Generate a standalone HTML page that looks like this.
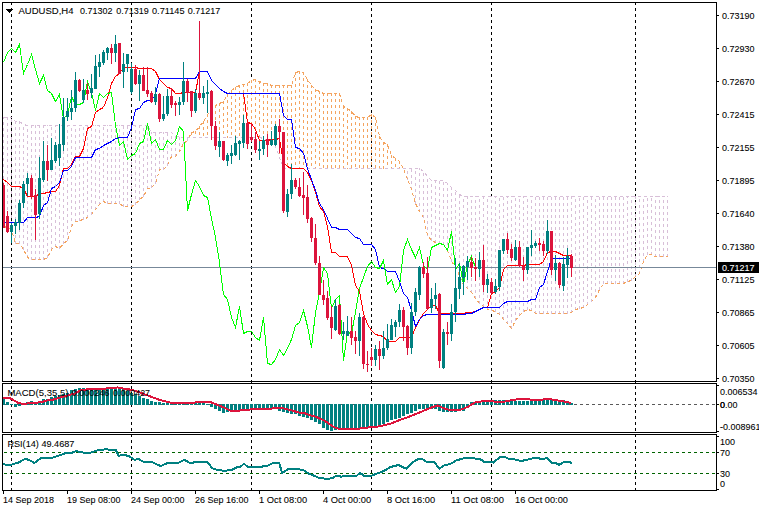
<!DOCTYPE html><html><head><meta charset="utf-8"><title>AUDUSD,H4</title><style>html,body{margin:0;padding:0;background:#fff}svg{display:block}text{font-family:"Liberation Sans",sans-serif;font-size:9px;fill:#000;stroke:#000;stroke-width:0.08px}</style></head><body>
<svg width="759" height="511" viewBox="0 0 759 511" shape-rendering="crispEdges">
<rect width="759" height="511" fill="#fff"/>
<line x1="11.5" y1="2" x2="11.5" y2="490" stroke="#000" stroke-width="1" stroke-dasharray="3,3"/>
<line x1="131.5" y1="2" x2="131.5" y2="490" stroke="#000" stroke-width="1" stroke-dasharray="3,3"/>
<line x1="251.5" y1="2" x2="251.5" y2="490" stroke="#000" stroke-width="1" stroke-dasharray="3,3"/>
<line x1="371.5" y1="2" x2="371.5" y2="490" stroke="#000" stroke-width="1" stroke-dasharray="3,3"/>
<line x1="491.5" y1="2" x2="491.5" y2="490" stroke="#000" stroke-width="1" stroke-dasharray="3,3"/>
<line x1="635.5" y1="2" x2="635.5" y2="490" stroke="#000" stroke-width="1" stroke-dasharray="3,3"/>
<line x1="3.5" y1="227" x2="3.5" y2="117" stroke="#d8bfd8" stroke-width="1" stroke-dasharray="3,3"/>
<line x1="7.5" y1="228" x2="7.5" y2="117" stroke="#d8bfd8" stroke-width="1" stroke-dasharray="3,3"/>
<line x1="11.5" y1="230" x2="11.5" y2="117" stroke="#d8bfd8" stroke-width="1" stroke-dasharray="3,3"/>
<line x1="15.5" y1="244" x2="15.5" y2="121" stroke="#d8bfd8" stroke-width="1" stroke-dasharray="3,3"/>
<line x1="19.5" y1="244" x2="19.5" y2="121" stroke="#d8bfd8" stroke-width="1" stroke-dasharray="3,3"/>
<line x1="23.5" y1="250" x2="23.5" y2="124" stroke="#d8bfd8" stroke-width="1" stroke-dasharray="3,3"/>
<line x1="27.5" y1="258" x2="27.5" y2="125" stroke="#d8bfd8" stroke-width="1" stroke-dasharray="3,3"/>
<line x1="31.5" y1="260" x2="31.5" y2="125" stroke="#d8bfd8" stroke-width="1" stroke-dasharray="3,3"/>
<line x1="35.5" y1="260" x2="35.5" y2="125" stroke="#d8bfd8" stroke-width="1" stroke-dasharray="3,3"/>
<line x1="39.5" y1="260" x2="39.5" y2="125" stroke="#d8bfd8" stroke-width="1" stroke-dasharray="3,3"/>
<line x1="43.5" y1="260" x2="43.5" y2="125" stroke="#d8bfd8" stroke-width="1" stroke-dasharray="3,3"/>
<line x1="47.5" y1="258" x2="47.5" y2="125" stroke="#d8bfd8" stroke-width="1" stroke-dasharray="3,3"/>
<line x1="51.5" y1="250" x2="51.5" y2="125" stroke="#d8bfd8" stroke-width="1" stroke-dasharray="3,3"/>
<line x1="55.5" y1="247" x2="55.5" y2="125" stroke="#d8bfd8" stroke-width="1" stroke-dasharray="3,3"/>
<line x1="59.5" y1="249" x2="59.5" y2="125" stroke="#d8bfd8" stroke-width="1" stroke-dasharray="3,3"/>
<line x1="63.5" y1="244" x2="63.5" y2="125" stroke="#d8bfd8" stroke-width="1" stroke-dasharray="3,3"/>
<line x1="67.5" y1="241" x2="67.5" y2="125" stroke="#d8bfd8" stroke-width="1" stroke-dasharray="3,3"/>
<line x1="71.5" y1="227" x2="71.5" y2="125" stroke="#d8bfd8" stroke-width="1" stroke-dasharray="3,3"/>
<line x1="75.5" y1="222" x2="75.5" y2="125" stroke="#d8bfd8" stroke-width="1" stroke-dasharray="3,3"/>
<line x1="79.5" y1="221" x2="79.5" y2="125" stroke="#d8bfd8" stroke-width="1" stroke-dasharray="3,3"/>
<line x1="83.5" y1="220" x2="83.5" y2="125" stroke="#d8bfd8" stroke-width="1" stroke-dasharray="3,3"/>
<line x1="87.5" y1="218" x2="87.5" y2="125" stroke="#d8bfd8" stroke-width="1" stroke-dasharray="3,3"/>
<line x1="91.5" y1="215" x2="91.5" y2="125" stroke="#d8bfd8" stroke-width="1" stroke-dasharray="3,3"/>
<line x1="95.5" y1="210" x2="95.5" y2="125" stroke="#d8bfd8" stroke-width="1" stroke-dasharray="3,3"/>
<line x1="99.5" y1="205" x2="99.5" y2="125" stroke="#d8bfd8" stroke-width="1" stroke-dasharray="3,3"/>
<line x1="103.5" y1="202" x2="103.5" y2="125" stroke="#d8bfd8" stroke-width="1" stroke-dasharray="3,3"/>
<line x1="107.5" y1="204" x2="107.5" y2="125" stroke="#d8bfd8" stroke-width="1" stroke-dasharray="3,3"/>
<line x1="111.5" y1="204" x2="111.5" y2="125" stroke="#d8bfd8" stroke-width="1" stroke-dasharray="3,3"/>
<line x1="115.5" y1="204" x2="115.5" y2="125" stroke="#d8bfd8" stroke-width="1" stroke-dasharray="3,3"/>
<line x1="119.5" y1="204" x2="119.5" y2="125" stroke="#d8bfd8" stroke-width="1" stroke-dasharray="3,3"/>
<line x1="123.5" y1="207" x2="123.5" y2="125" stroke="#d8bfd8" stroke-width="1" stroke-dasharray="3,3"/>
<line x1="127.5" y1="207" x2="127.5" y2="125" stroke="#d8bfd8" stroke-width="1" stroke-dasharray="3,3"/>
<line x1="131.5" y1="207" x2="131.5" y2="125" stroke="#d8bfd8" stroke-width="1" stroke-dasharray="3,3"/>
<line x1="135.5" y1="205" x2="135.5" y2="125" stroke="#d8bfd8" stroke-width="1" stroke-dasharray="3,3"/>
<line x1="139.5" y1="200" x2="139.5" y2="125" stroke="#d8bfd8" stroke-width="1" stroke-dasharray="3,3"/>
<line x1="143.5" y1="197" x2="143.5" y2="125" stroke="#d8bfd8" stroke-width="1" stroke-dasharray="3,3"/>
<line x1="147.5" y1="189" x2="147.5" y2="125" stroke="#d8bfd8" stroke-width="1" stroke-dasharray="3,3"/>
<line x1="151.5" y1="188" x2="151.5" y2="132" stroke="#d8bfd8" stroke-width="1" stroke-dasharray="3,3"/>
<line x1="155.5" y1="184" x2="155.5" y2="132" stroke="#d8bfd8" stroke-width="1" stroke-dasharray="3,3"/>
<line x1="159.5" y1="170" x2="159.5" y2="132" stroke="#d8bfd8" stroke-width="1" stroke-dasharray="3,3"/>
<line x1="163.5" y1="170" x2="163.5" y2="132" stroke="#d8bfd8" stroke-width="1" stroke-dasharray="3,3"/>
<line x1="167.5" y1="166" x2="167.5" y2="132" stroke="#d8bfd8" stroke-width="1" stroke-dasharray="3,3"/>
<line x1="171.5" y1="157" x2="171.5" y2="132" stroke="#d8bfd8" stroke-width="1" stroke-dasharray="3,3"/>
<line x1="175.5" y1="157" x2="175.5" y2="135" stroke="#d8bfd8" stroke-width="1" stroke-dasharray="3,3"/>
<line x1="179.5" y1="152" x2="179.5" y2="137" stroke="#d8bfd8" stroke-width="1" stroke-dasharray="3,3"/>
<line x1="183.5" y1="144" x2="183.5" y2="137" stroke="#d8bfd8" stroke-width="1" stroke-dasharray="3,3"/>
<line x1="187.5" y1="141" x2="187.5" y2="137" stroke="#d8bfd8" stroke-width="1" stroke-dasharray="3,3"/>
<line x1="191.5" y1="132" x2="191.5" y2="138" stroke="#f4a460" stroke-width="1" stroke-dasharray="3,3"/>
<line x1="195.5" y1="131" x2="195.5" y2="138" stroke="#f4a460" stroke-width="1" stroke-dasharray="3,3"/>
<line x1="199.5" y1="126" x2="199.5" y2="138" stroke="#f4a460" stroke-width="1" stroke-dasharray="3,3"/>
<line x1="203.5" y1="121" x2="203.5" y2="138" stroke="#f4a460" stroke-width="1" stroke-dasharray="3,3"/>
<line x1="207.5" y1="114" x2="207.5" y2="138" stroke="#f4a460" stroke-width="1" stroke-dasharray="3,3"/>
<line x1="211.5" y1="109" x2="211.5" y2="138" stroke="#f4a460" stroke-width="1" stroke-dasharray="3,3"/>
<line x1="215.5" y1="105" x2="215.5" y2="138" stroke="#f4a460" stroke-width="1" stroke-dasharray="3,3"/>
<line x1="219.5" y1="103" x2="219.5" y2="138" stroke="#f4a460" stroke-width="1" stroke-dasharray="3,3"/>
<line x1="223.5" y1="101" x2="223.5" y2="138" stroke="#f4a460" stroke-width="1" stroke-dasharray="3,3"/>
<line x1="227.5" y1="94" x2="227.5" y2="138" stroke="#f4a460" stroke-width="1" stroke-dasharray="3,3"/>
<line x1="231.5" y1="90" x2="231.5" y2="138" stroke="#f4a460" stroke-width="1" stroke-dasharray="3,3"/>
<line x1="235.5" y1="87" x2="235.5" y2="138" stroke="#f4a460" stroke-width="1" stroke-dasharray="3,3"/>
<line x1="239.5" y1="85" x2="239.5" y2="138" stroke="#f4a460" stroke-width="1" stroke-dasharray="3,3"/>
<line x1="243.5" y1="84" x2="243.5" y2="138" stroke="#f4a460" stroke-width="1" stroke-dasharray="3,3"/>
<line x1="247.5" y1="83" x2="247.5" y2="138" stroke="#f4a460" stroke-width="1" stroke-dasharray="3,3"/>
<line x1="251.5" y1="80" x2="251.5" y2="138" stroke="#f4a460" stroke-width="1" stroke-dasharray="3,3"/>
<line x1="255.5" y1="79" x2="255.5" y2="138" stroke="#f4a460" stroke-width="1" stroke-dasharray="3,3"/>
<line x1="259.5" y1="81" x2="259.5" y2="138" stroke="#f4a460" stroke-width="1" stroke-dasharray="3,3"/>
<line x1="263.5" y1="83" x2="263.5" y2="139" stroke="#f4a460" stroke-width="1" stroke-dasharray="3,3"/>
<line x1="267.5" y1="83" x2="267.5" y2="141" stroke="#f4a460" stroke-width="1" stroke-dasharray="3,3"/>
<line x1="271.5" y1="85" x2="271.5" y2="144" stroke="#f4a460" stroke-width="1" stroke-dasharray="3,3"/>
<line x1="275.5" y1="85" x2="275.5" y2="147" stroke="#f4a460" stroke-width="1" stroke-dasharray="3,3"/>
<line x1="279.5" y1="85" x2="279.5" y2="158" stroke="#f4a460" stroke-width="1" stroke-dasharray="3,3"/>
<line x1="283.5" y1="85" x2="283.5" y2="169" stroke="#f4a460" stroke-width="1" stroke-dasharray="3,3"/>
<line x1="287.5" y1="85" x2="287.5" y2="169" stroke="#f4a460" stroke-width="1" stroke-dasharray="3,3"/>
<line x1="291.5" y1="85" x2="291.5" y2="169" stroke="#f4a460" stroke-width="1" stroke-dasharray="3,3"/>
<line x1="295.5" y1="72" x2="295.5" y2="169" stroke="#f4a460" stroke-width="1" stroke-dasharray="3,3"/>
<line x1="299.5" y1="71" x2="299.5" y2="169" stroke="#f4a460" stroke-width="1" stroke-dasharray="3,3"/>
<line x1="303.5" y1="72" x2="303.5" y2="169" stroke="#f4a460" stroke-width="1" stroke-dasharray="3,3"/>
<line x1="307.5" y1="79" x2="307.5" y2="169" stroke="#f4a460" stroke-width="1" stroke-dasharray="3,3"/>
<line x1="311.5" y1="85" x2="311.5" y2="169" stroke="#f4a460" stroke-width="1" stroke-dasharray="3,3"/>
<line x1="315.5" y1="89" x2="315.5" y2="169" stroke="#f4a460" stroke-width="1" stroke-dasharray="3,3"/>
<line x1="319.5" y1="91" x2="319.5" y2="169" stroke="#f4a460" stroke-width="1" stroke-dasharray="3,3"/>
<line x1="323.5" y1="93" x2="323.5" y2="169" stroke="#f4a460" stroke-width="1" stroke-dasharray="3,3"/>
<line x1="327.5" y1="93" x2="327.5" y2="169" stroke="#f4a460" stroke-width="1" stroke-dasharray="3,3"/>
<line x1="331.5" y1="93" x2="331.5" y2="169" stroke="#f4a460" stroke-width="1" stroke-dasharray="3,3"/>
<line x1="335.5" y1="93" x2="335.5" y2="169" stroke="#f4a460" stroke-width="1" stroke-dasharray="3,3"/>
<line x1="339.5" y1="93" x2="339.5" y2="169" stroke="#f4a460" stroke-width="1" stroke-dasharray="3,3"/>
<line x1="343.5" y1="106" x2="343.5" y2="169" stroke="#f4a460" stroke-width="1" stroke-dasharray="3,3"/>
<line x1="347.5" y1="108" x2="347.5" y2="169" stroke="#f4a460" stroke-width="1" stroke-dasharray="3,3"/>
<line x1="351.5" y1="111" x2="351.5" y2="169" stroke="#f4a460" stroke-width="1" stroke-dasharray="3,3"/>
<line x1="355.5" y1="116" x2="355.5" y2="169" stroke="#f4a460" stroke-width="1" stroke-dasharray="3,3"/>
<line x1="359.5" y1="117" x2="359.5" y2="169" stroke="#f4a460" stroke-width="1" stroke-dasharray="3,3"/>
<line x1="363.5" y1="117" x2="363.5" y2="169" stroke="#f4a460" stroke-width="1" stroke-dasharray="3,3"/>
<line x1="367.5" y1="117" x2="367.5" y2="169" stroke="#f4a460" stroke-width="1" stroke-dasharray="3,3"/>
<line x1="371.5" y1="114" x2="371.5" y2="169" stroke="#f4a460" stroke-width="1" stroke-dasharray="3,3"/>
<line x1="375.5" y1="117" x2="375.5" y2="169" stroke="#f4a460" stroke-width="1" stroke-dasharray="3,3"/>
<line x1="379.5" y1="136" x2="379.5" y2="169" stroke="#f4a460" stroke-width="1" stroke-dasharray="3,3"/>
<line x1="383.5" y1="142" x2="383.5" y2="169" stroke="#f4a460" stroke-width="1" stroke-dasharray="3,3"/>
<line x1="387.5" y1="144" x2="387.5" y2="169" stroke="#f4a460" stroke-width="1" stroke-dasharray="3,3"/>
<line x1="391.5" y1="155" x2="391.5" y2="169" stroke="#f4a460" stroke-width="1" stroke-dasharray="3,3"/>
<line x1="395.5" y1="158" x2="395.5" y2="169" stroke="#f4a460" stroke-width="1" stroke-dasharray="3,3"/>
<line x1="399.5" y1="161" x2="399.5" y2="169" stroke="#f4a460" stroke-width="1" stroke-dasharray="3,3"/>
<line x1="407.5" y1="180" x2="407.5" y2="168" stroke="#d8bfd8" stroke-width="1" stroke-dasharray="3,3"/>
<line x1="411.5" y1="190" x2="411.5" y2="168" stroke="#d8bfd8" stroke-width="1" stroke-dasharray="3,3"/>
<line x1="415.5" y1="204" x2="415.5" y2="168" stroke="#d8bfd8" stroke-width="1" stroke-dasharray="3,3"/>
<line x1="419.5" y1="212" x2="419.5" y2="168" stroke="#d8bfd8" stroke-width="1" stroke-dasharray="3,3"/>
<line x1="423.5" y1="218" x2="423.5" y2="171" stroke="#d8bfd8" stroke-width="1" stroke-dasharray="3,3"/>
<line x1="427.5" y1="236" x2="427.5" y2="176" stroke="#d8bfd8" stroke-width="1" stroke-dasharray="3,3"/>
<line x1="431.5" y1="241" x2="431.5" y2="180" stroke="#d8bfd8" stroke-width="1" stroke-dasharray="3,3"/>
<line x1="435.5" y1="243" x2="435.5" y2="180" stroke="#d8bfd8" stroke-width="1" stroke-dasharray="3,3"/>
<line x1="439.5" y1="244" x2="439.5" y2="180" stroke="#d8bfd8" stroke-width="1" stroke-dasharray="3,3"/>
<line x1="443.5" y1="245" x2="443.5" y2="180" stroke="#d8bfd8" stroke-width="1" stroke-dasharray="3,3"/>
<line x1="447.5" y1="251" x2="447.5" y2="183" stroke="#d8bfd8" stroke-width="1" stroke-dasharray="3,3"/>
<line x1="451.5" y1="262" x2="451.5" y2="187" stroke="#d8bfd8" stroke-width="1" stroke-dasharray="3,3"/>
<line x1="455.5" y1="267" x2="455.5" y2="190" stroke="#d8bfd8" stroke-width="1" stroke-dasharray="3,3"/>
<line x1="459.5" y1="276" x2="459.5" y2="194" stroke="#d8bfd8" stroke-width="1" stroke-dasharray="3,3"/>
<line x1="463.5" y1="286" x2="463.5" y2="196" stroke="#d8bfd8" stroke-width="1" stroke-dasharray="3,3"/>
<line x1="467.5" y1="289" x2="467.5" y2="196" stroke="#d8bfd8" stroke-width="1" stroke-dasharray="3,3"/>
<line x1="471.5" y1="293" x2="471.5" y2="196" stroke="#d8bfd8" stroke-width="1" stroke-dasharray="3,3"/>
<line x1="475.5" y1="299" x2="475.5" y2="196" stroke="#d8bfd8" stroke-width="1" stroke-dasharray="3,3"/>
<line x1="479.5" y1="304" x2="479.5" y2="196" stroke="#d8bfd8" stroke-width="1" stroke-dasharray="3,3"/>
<line x1="483.5" y1="307" x2="483.5" y2="196" stroke="#d8bfd8" stroke-width="1" stroke-dasharray="3,3"/>
<line x1="487.5" y1="310" x2="487.5" y2="196" stroke="#d8bfd8" stroke-width="1" stroke-dasharray="3,3"/>
<line x1="491.5" y1="311" x2="491.5" y2="196" stroke="#d8bfd8" stroke-width="1" stroke-dasharray="3,3"/>
<line x1="495.5" y1="312" x2="495.5" y2="196" stroke="#d8bfd8" stroke-width="1" stroke-dasharray="3,3"/>
<line x1="499.5" y1="315" x2="499.5" y2="196" stroke="#d8bfd8" stroke-width="1" stroke-dasharray="3,3"/>
<line x1="503.5" y1="320" x2="503.5" y2="196" stroke="#d8bfd8" stroke-width="1" stroke-dasharray="3,3"/>
<line x1="507.5" y1="324" x2="507.5" y2="196" stroke="#d8bfd8" stroke-width="1" stroke-dasharray="3,3"/>
<line x1="511.5" y1="329" x2="511.5" y2="196" stroke="#d8bfd8" stroke-width="1" stroke-dasharray="3,3"/>
<line x1="515.5" y1="321" x2="515.5" y2="196" stroke="#d8bfd8" stroke-width="1" stroke-dasharray="3,3"/>
<line x1="519.5" y1="316" x2="519.5" y2="196" stroke="#d8bfd8" stroke-width="1" stroke-dasharray="3,3"/>
<line x1="523.5" y1="312" x2="523.5" y2="196" stroke="#d8bfd8" stroke-width="1" stroke-dasharray="3,3"/>
<line x1="527.5" y1="310" x2="527.5" y2="196" stroke="#d8bfd8" stroke-width="1" stroke-dasharray="3,3"/>
<line x1="531.5" y1="311" x2="531.5" y2="196" stroke="#d8bfd8" stroke-width="1" stroke-dasharray="3,3"/>
<line x1="535.5" y1="314" x2="535.5" y2="196" stroke="#d8bfd8" stroke-width="1" stroke-dasharray="3,3"/>
<line x1="539.5" y1="314" x2="539.5" y2="196" stroke="#d8bfd8" stroke-width="1" stroke-dasharray="3,3"/>
<line x1="543.5" y1="314" x2="543.5" y2="196" stroke="#d8bfd8" stroke-width="1" stroke-dasharray="3,3"/>
<line x1="547.5" y1="314" x2="547.5" y2="196" stroke="#d8bfd8" stroke-width="1" stroke-dasharray="3,3"/>
<line x1="551.5" y1="314" x2="551.5" y2="196" stroke="#d8bfd8" stroke-width="1" stroke-dasharray="3,3"/>
<line x1="555.5" y1="314" x2="555.5" y2="196" stroke="#d8bfd8" stroke-width="1" stroke-dasharray="3,3"/>
<line x1="559.5" y1="314" x2="559.5" y2="196" stroke="#d8bfd8" stroke-width="1" stroke-dasharray="3,3"/>
<line x1="563.5" y1="314" x2="563.5" y2="196" stroke="#d8bfd8" stroke-width="1" stroke-dasharray="3,3"/>
<line x1="567.5" y1="314" x2="567.5" y2="196" stroke="#d8bfd8" stroke-width="1" stroke-dasharray="3,3"/>
<line x1="571.5" y1="313" x2="571.5" y2="196" stroke="#d8bfd8" stroke-width="1" stroke-dasharray="3,3"/>
<line x1="575.5" y1="310" x2="575.5" y2="196" stroke="#d8bfd8" stroke-width="1" stroke-dasharray="3,3"/>
<line x1="579.5" y1="309" x2="579.5" y2="196" stroke="#d8bfd8" stroke-width="1" stroke-dasharray="3,3"/>
<line x1="583.5" y1="308" x2="583.5" y2="196" stroke="#d8bfd8" stroke-width="1" stroke-dasharray="3,3"/>
<line x1="587.5" y1="305" x2="587.5" y2="196" stroke="#d8bfd8" stroke-width="1" stroke-dasharray="3,3"/>
<line x1="591.5" y1="302" x2="591.5" y2="196" stroke="#d8bfd8" stroke-width="1" stroke-dasharray="3,3"/>
<line x1="595.5" y1="298" x2="595.5" y2="196" stroke="#d8bfd8" stroke-width="1" stroke-dasharray="3,3"/>
<line x1="599.5" y1="290" x2="599.5" y2="196" stroke="#d8bfd8" stroke-width="1" stroke-dasharray="3,3"/>
<line x1="603.5" y1="284" x2="603.5" y2="196" stroke="#d8bfd8" stroke-width="1" stroke-dasharray="3,3"/>
<line x1="607.5" y1="284" x2="607.5" y2="196" stroke="#d8bfd8" stroke-width="1" stroke-dasharray="3,3"/>
<line x1="611.5" y1="284" x2="611.5" y2="196" stroke="#d8bfd8" stroke-width="1" stroke-dasharray="3,3"/>
<line x1="615.5" y1="284" x2="615.5" y2="196" stroke="#d8bfd8" stroke-width="1" stroke-dasharray="3,3"/>
<line x1="619.5" y1="284" x2="619.5" y2="196" stroke="#d8bfd8" stroke-width="1" stroke-dasharray="3,3"/>
<line x1="623.5" y1="284" x2="623.5" y2="196" stroke="#d8bfd8" stroke-width="1" stroke-dasharray="3,3"/>
<line x1="627.5" y1="282" x2="627.5" y2="196" stroke="#d8bfd8" stroke-width="1" stroke-dasharray="3,3"/>
<line x1="631.5" y1="281" x2="631.5" y2="196" stroke="#d8bfd8" stroke-width="1" stroke-dasharray="3,3"/>
<line x1="635.5" y1="277" x2="635.5" y2="196" stroke="#d8bfd8" stroke-width="1" stroke-dasharray="3,3"/>
<line x1="639.5" y1="274" x2="639.5" y2="196" stroke="#d8bfd8" stroke-width="1" stroke-dasharray="3,3"/>
<line x1="643.5" y1="262" x2="643.5" y2="196" stroke="#d8bfd8" stroke-width="1" stroke-dasharray="3,3"/>
<line x1="647.5" y1="255" x2="647.5" y2="196" stroke="#d8bfd8" stroke-width="1" stroke-dasharray="3,3"/>
<line x1="651.5" y1="255" x2="651.5" y2="196" stroke="#d8bfd8" stroke-width="1" stroke-dasharray="3,3"/>
<line x1="655.5" y1="257" x2="655.5" y2="196" stroke="#d8bfd8" stroke-width="1" stroke-dasharray="3,3"/>
<line x1="659.5" y1="257" x2="659.5" y2="196" stroke="#d8bfd8" stroke-width="1" stroke-dasharray="3,3"/>
<line x1="663.5" y1="257" x2="663.5" y2="196" stroke="#d8bfd8" stroke-width="1" stroke-dasharray="3,3"/>
<line x1="667.5" y1="257" x2="667.5" y2="196" stroke="#d8bfd8" stroke-width="1" stroke-dasharray="3,3"/>
<polyline points="3.5,226.5 7.5,227.5 11.5,229.5 15.5,243.5 19.5,243.5 23.5,249.5 27.5,257.5 31.5,259.5 35.5,259.5 39.5,259.5 43.5,259.5 47.5,257.5 51.5,249.5 55.5,246.5 59.5,248.5 63.5,243.5 67.5,240.5 71.5,226.5 75.5,221.5 79.5,220.5 83.5,219.5 87.5,217.5 91.5,214.5 95.5,209.5 99.5,204.5 103.5,201.5 107.5,203.5 111.5,203.5 115.5,203.5 119.5,203.5 123.5,206.5 127.5,206.5 131.5,206.5 135.5,204.5 139.5,199.5 143.5,196.5 147.5,188.5 151.5,187.5 155.5,183.5 159.5,169.5 163.5,169.5 167.5,165.5 171.5,156.5 175.5,156.5 179.5,151.5 183.5,143.5 187.5,140.5 191.5,132.5 195.5,131.5 199.5,126.5 203.5,121.5 207.5,114.5 211.5,109.5 215.5,105.5 219.5,103.5 223.5,101.5 227.5,94.5 231.5,90.5 235.5,87.5 239.5,85.5 243.5,84.5 247.5,83.5 251.5,80.5 255.5,79.5 259.5,81.5 263.5,83.5 267.5,83.5 271.5,85.5 275.5,85.5 279.5,85.5 283.5,85.5 287.5,85.5 291.5,85.5 295.5,72.5 299.5,71.5 303.5,72.5 307.5,79.5 311.5,85.5 315.5,89.5 319.5,91.5 323.5,93.5 327.5,93.5 331.5,93.5 335.5,93.5 339.5,93.5 343.5,106.5 347.5,108.5 351.5,111.5 355.5,116.5 359.5,117.5 363.5,117.5 367.5,117.5 371.5,114.5 375.5,117.5 379.5,136.5 383.5,142.5 387.5,144.5 391.5,155.5 395.5,158.5 399.5,161.5 403.5,168.5 407.5,179.5 411.5,189.5 415.5,203.5 419.5,211.5 423.5,217.5 427.5,235.5 431.5,240.5 435.5,242.5 439.5,243.5 443.5,244.5 447.5,250.5 451.5,261.5 455.5,266.5 459.5,275.5 463.5,285.5 467.5,288.5 471.5,292.5 475.5,298.5 479.5,303.5 483.5,306.5 487.5,309.5 491.5,310.5 495.5,311.5 499.5,314.5 503.5,319.5 507.5,323.5 511.5,328.5 515.5,320.5 519.5,315.5 523.5,311.5 527.5,309.5 531.5,310.5 535.5,313.5 539.5,313.5 543.5,313.5 547.5,313.5 551.5,313.5 555.5,313.5 559.5,313.5 563.5,313.5 567.5,313.5 571.5,312.5 575.5,309.5 579.5,308.5 583.5,307.5 587.5,304.5 591.5,301.5 595.5,297.5 599.5,289.5 603.5,283.5 607.5,283.5 611.5,283.5 615.5,283.5 619.5,283.5 623.5,283.5 627.5,281.5 631.5,280.5 635.5,276.5 639.5,273.5 643.5,261.5 647.5,254.5 651.5,254.5 655.5,256.5 659.5,256.5 663.5,256.5 667.5,256.5" fill="none" stroke="#f4a460" stroke-width="1" stroke-dasharray="3,3"/>
<polyline points="3.5,117.5 7.5,117.5 11.5,117.5 15.5,121.5 19.5,121.5 23.5,124.5 27.5,125.5 31.5,125.5 35.5,125.5 39.5,125.5 43.5,125.5 47.5,125.5 51.5,125.5 55.5,125.5 59.5,125.5 63.5,125.5 67.5,125.5 71.5,125.5 75.5,125.5 79.5,125.5 83.5,125.5 87.5,125.5 91.5,125.5 95.5,125.5 99.5,125.5 103.5,125.5 107.5,125.5 111.5,125.5 115.5,125.5 119.5,125.5 123.5,125.5 127.5,125.5 131.5,125.5 135.5,125.5 139.5,125.5 143.5,125.5 147.5,125.5 151.5,132.5 155.5,132.5 159.5,132.5 163.5,132.5 167.5,132.5 171.5,132.5 175.5,135.5 179.5,137.5 183.5,137.5 187.5,137.5 191.5,137.5 195.5,137.5 199.5,137.5 203.5,137.5 207.5,137.5 211.5,137.5 215.5,137.5 219.5,137.5 223.5,137.5 227.5,137.5 231.5,137.5 235.5,137.5 239.5,137.5 243.5,137.5 247.5,137.5 251.5,137.5 255.5,137.5 259.5,137.5 263.5,138.5 267.5,140.5 271.5,143.5 275.5,146.5 279.5,157.5 283.5,168.5 287.5,168.5 291.5,168.5 295.5,168.5 299.5,168.5 303.5,168.5 307.5,168.5 311.5,168.5 315.5,168.5 319.5,168.5 323.5,168.5 327.5,168.5 331.5,168.5 335.5,168.5 339.5,168.5 343.5,168.5 347.5,168.5 351.5,168.5 355.5,168.5 359.5,168.5 363.5,168.5 367.5,168.5 371.5,168.5 375.5,168.5 379.5,168.5 383.5,168.5 387.5,168.5 391.5,168.5 395.5,168.5 399.5,168.5 403.5,168.5 407.5,168.5 411.5,168.5 415.5,168.5 419.5,168.5 423.5,171.5 427.5,176.5 431.5,180.5 435.5,180.5 439.5,180.5 443.5,180.5 447.5,183.5 451.5,187.5 455.5,190.5 459.5,194.5 463.5,196.5 467.5,196.5 471.5,196.5 475.5,196.5 479.5,196.5 483.5,196.5 487.5,196.5 491.5,196.5 495.5,196.5 499.5,196.5 503.5,196.5 507.5,196.5 511.5,196.5 515.5,196.5 519.5,196.5 523.5,196.5 527.5,196.5 531.5,196.5 535.5,196.5 539.5,196.5 543.5,196.5 547.5,196.5 551.5,196.5 555.5,196.5 559.5,196.5 563.5,196.5 567.5,196.5 571.5,196.5 575.5,196.5 579.5,196.5 583.5,196.5 587.5,196.5 591.5,196.5 595.5,196.5 599.5,196.5 603.5,196.5 607.5,196.5 611.5,196.5 615.5,196.5 619.5,196.5 623.5,196.5 627.5,196.5 631.5,196.5 635.5,196.5 639.5,196.5 643.5,196.5 647.5,196.5 651.5,196.5 655.5,196.5 659.5,196.5 663.5,196.5 667.5,196.5" fill="none" stroke="#d8bfd8" stroke-width="1" stroke-dasharray="3,3"/>
<rect x="3" y="267" width="713" height="1" fill="#778899"/>
<polyline points="3.5,179.5 7.5,182.5 11.5,186.5 15.5,186.5 19.5,186.5 23.5,188.5 27.5,196.5 31.5,196.5 35.5,196.5 39.5,193.5 43.5,193.5 47.5,192.5 51.5,191.5 55.5,191.5 59.5,185.5 63.5,168.5 67.5,168.5 71.5,164.5 75.5,156.5 79.5,156.5 83.5,148.5 87.5,128.5 91.5,126.5 95.5,112.5 99.5,109.5 103.5,107.5 107.5,97.5 111.5,83.5 115.5,76.5 119.5,73.5 123.5,67.5 127.5,67.5 131.5,67.5 135.5,67.5 139.5,68.5 143.5,68.5 147.5,68.5 151.5,68.5 155.5,71.5 159.5,79.5 163.5,83.5 167.5,87.5 171.5,88.5 175.5,93.5 179.5,93.5 183.5,92.5 187.5,92.5 191.5,92.5 195.5,92.5 199.5,71.5 203.5,71.5 207.5,71.5 211.5,80.5 215.5,84.5 219.5,88.5 223.5,91.5 227.5,93.5 231.5,93.5 235.5,93.5 239.5,93.5 243.5,93.5 247.5,122.5 251.5,123.5 255.5,129.5 259.5,140.5 263.5,140.5 267.5,140.5 271.5,139.5 275.5,139.5 279.5,138.5 283.5,162.5 287.5,166.5 291.5,168.5 295.5,168.5 299.5,168.5 303.5,168.5 307.5,172.5 311.5,180.5 315.5,192.5 319.5,206.5 323.5,211.5 327.5,226.5 331.5,252.5 335.5,252.5 339.5,256.5 343.5,256.5 347.5,256.5 351.5,265.5 355.5,285.5 359.5,291.5 363.5,313.5 367.5,324.5 371.5,330.5 375.5,334.5 379.5,335.5 383.5,336.5 387.5,341.5 391.5,341.5 395.5,341.5 399.5,337.5 403.5,337.5 407.5,337.5 411.5,337.5 415.5,327.5 419.5,319.5 423.5,313.5 427.5,309.5 431.5,305.5 435.5,305.5 439.5,313.5 443.5,313.5 447.5,313.5 451.5,313.5 455.5,313.5 459.5,313.5 463.5,313.5 467.5,312.5 471.5,312.5 475.5,311.5 479.5,309.5 483.5,307.5 487.5,307.5 491.5,293.5 495.5,291.5 499.5,287.5 503.5,269.5 507.5,265.5 511.5,265.5 515.5,265.5 519.5,265.5 523.5,265.5 527.5,264.5 531.5,264.5 535.5,264.5 539.5,264.5 543.5,261.5 547.5,252.5 551.5,251.5 555.5,251.5 559.5,253.5 563.5,255.5 567.5,255.5 571.5,255.5" fill="none" stroke="#ff0000" stroke-width="1"/>
<polyline points="3.5,222.5 7.5,222.5 11.5,222.5 15.5,222.5 19.5,222.5 23.5,222.5 27.5,217.5 31.5,217.5 35.5,217.5 39.5,216.5 43.5,205.5 47.5,202.5 51.5,188.5 55.5,186.5 59.5,182.5 63.5,170.5 67.5,170.5 71.5,166.5 75.5,157.5 79.5,157.5 83.5,157.5 87.5,157.5 91.5,157.5 95.5,149.5 99.5,148.5 103.5,145.5 107.5,143.5 111.5,141.5 115.5,138.5 119.5,137.5 123.5,137.5 127.5,137.5 131.5,127.5 135.5,109.5 139.5,108.5 143.5,102.5 147.5,100.5 151.5,100.5 155.5,94.5 159.5,78.5 163.5,78.5 167.5,78.5 171.5,78.5 175.5,78.5 179.5,78.5 183.5,78.5 187.5,78.5 191.5,78.5 195.5,78.5 199.5,71.5 203.5,71.5 207.5,71.5 211.5,80.5 215.5,84.5 219.5,88.5 223.5,91.5 227.5,93.5 231.5,93.5 235.5,93.5 239.5,93.5 243.5,93.5 247.5,93.5 251.5,93.5 255.5,93.5 259.5,93.5 263.5,93.5 267.5,93.5 271.5,93.5 275.5,93.5 279.5,93.5 283.5,115.5 287.5,119.5 291.5,119.5 295.5,147.5 299.5,148.5 303.5,153.5 307.5,168.5 311.5,179.5 315.5,190.5 319.5,203.5 323.5,209.5 327.5,218.5 331.5,227.5 335.5,227.5 339.5,229.5 343.5,229.5 347.5,229.5 351.5,233.5 355.5,237.5 359.5,238.5 363.5,244.5 367.5,244.5 371.5,244.5 375.5,249.5 379.5,267.5 383.5,268.5 387.5,271.5 391.5,271.5 395.5,271.5 399.5,281.5 403.5,293.5 407.5,297.5 411.5,310.5 415.5,326.5 419.5,319.5 423.5,315.5 427.5,314.5 431.5,314.5 435.5,314.5 439.5,314.5 443.5,314.5 447.5,314.5 451.5,314.5 455.5,314.5 459.5,314.5 463.5,314.5 467.5,313.5 471.5,313.5 475.5,311.5 479.5,309.5 483.5,307.5 487.5,307.5 491.5,307.5 495.5,307.5 499.5,307.5 503.5,303.5 507.5,301.5 511.5,301.5 515.5,301.5 519.5,301.5 523.5,301.5 527.5,301.5 531.5,299.5 535.5,299.5 539.5,287.5 543.5,284.5 547.5,271.5 551.5,258.5 555.5,258.5 559.5,258.5 563.5,258.5 567.5,258.5 571.5,258.5" fill="none" stroke="#0000ff" stroke-width="1"/>
<polyline points="3.5,62.5 7.5,52.5 11.5,48.5 15.5,52.5 19.5,44.5 23.5,73.5 27.5,64.5 31.5,54.5 35.5,69.5 39.5,83.5 43.5,75.5 47.5,90.5 51.5,93.5 55.5,101.5 59.5,94.5 63.5,118.5 67.5,114.5 71.5,96.5 75.5,104.5 79.5,104.5 83.5,102.5 87.5,81.5 91.5,92.5 95.5,110.5 99.5,93.5 103.5,97.5 107.5,93.5 111.5,92.5 115.5,125.5 119.5,145.5 123.5,141.5 127.5,159.5 131.5,155.5 135.5,153.5 139.5,143.5 143.5,141.5 147.5,123.5 151.5,143.5 155.5,139.5 159.5,149.5 163.5,149.5 167.5,140.5 171.5,144.5 175.5,140.5 179.5,126.5 183.5,131.5 187.5,210.5 191.5,194.5 195.5,180.5 199.5,186.5 203.5,195.5 207.5,197.5 211.5,218.5 215.5,237.5 219.5,262.5 223.5,294.5 227.5,299.5 231.5,317.5 235.5,327.5 239.5,306.5 243.5,333.5 247.5,331.5 251.5,331.5 255.5,337.5 259.5,340.5 263.5,317.5 267.5,363.5 271.5,364.5 275.5,359.5 279.5,349.5 283.5,355.5 287.5,348.5 291.5,339.5 295.5,325.5 299.5,322.5 303.5,310.5 307.5,326.5 311.5,347.5 315.5,312.5 319.5,292.5 323.5,267.5 327.5,273.5 331.5,308.5 335.5,299.5 339.5,295.5 343.5,360.5 347.5,332.5 351.5,333.5 355.5,312.5 359.5,288.5 363.5,277.5 367.5,266.5 371.5,261.5 375.5,267.5 379.5,268.5 383.5,260.5 387.5,284.5 391.5,279.5 395.5,292.5 399.5,286.5 403.5,250.5 407.5,239.5 411.5,249.5 415.5,257.5 419.5,247.5 423.5,265.5 427.5,269.5 431.5,247.5 435.5,245.5 439.5,243.5 443.5,244.5 447.5,250.5 451.5,231.5 455.5,269.5 459.5,263.5 463.5,284.5 467.5,264.5 471.5,256.5 475.5,267.5" fill="none" stroke="#00ff00" stroke-width="1"/>
<rect x="3" y="183" width="1" height="45" fill="#dc143c"/>
<rect x="2" y="185" width="3" height="43" fill="#dc143c"/>
<rect x="7" y="211" width="1" height="22" fill="#dc143c"/>
<rect x="6" y="216" width="3" height="16" fill="#dc143c"/>
<rect x="11" y="223" width="1" height="20" fill="#008080"/>
<rect x="10" y="225" width="3" height="7" fill="#008080"/>
<rect x="15" y="219" width="1" height="15" fill="#008080"/>
<rect x="14" y="222" width="3" height="4" fill="#008080"/>
<rect x="19" y="200" width="1" height="30" fill="#008080"/>
<rect x="18" y="203" width="3" height="20" fill="#008080"/>
<rect x="23" y="181" width="1" height="27" fill="#008080"/>
<rect x="22" y="184" width="3" height="19" fill="#008080"/>
<rect x="27" y="173" width="1" height="23" fill="#008080"/>
<rect x="26" y="178" width="3" height="6" fill="#008080"/>
<rect x="31" y="175" width="1" height="24" fill="#dc143c"/>
<rect x="30" y="178" width="3" height="18" fill="#dc143c"/>
<rect x="35" y="189" width="1" height="51" fill="#dc143c"/>
<rect x="34" y="195" width="3" height="20" fill="#dc143c"/>
<rect x="39" y="157" width="1" height="62" fill="#008080"/>
<rect x="38" y="178" width="3" height="36" fill="#008080"/>
<rect x="43" y="141" width="1" height="41" fill="#008080"/>
<rect x="42" y="161" width="3" height="19" fill="#008080"/>
<rect x="47" y="145" width="1" height="36" fill="#dc143c"/>
<rect x="46" y="161" width="3" height="9" fill="#dc143c"/>
<rect x="51" y="138" width="1" height="32" fill="#008080"/>
<rect x="50" y="160" width="3" height="10" fill="#008080"/>
<rect x="55" y="142" width="1" height="21" fill="#008080"/>
<rect x="54" y="145" width="3" height="16" fill="#008080"/>
<rect x="59" y="124" width="1" height="42" fill="#008080"/>
<rect x="58" y="144" width="3" height="14" fill="#008080"/>
<rect x="63" y="98" width="1" height="53" fill="#008080"/>
<rect x="62" y="117" width="3" height="28" fill="#008080"/>
<rect x="67" y="98" width="1" height="23" fill="#008080"/>
<rect x="66" y="111" width="3" height="6" fill="#008080"/>
<rect x="71" y="90" width="1" height="30" fill="#008080"/>
<rect x="70" y="108" width="3" height="4" fill="#008080"/>
<rect x="75" y="72" width="1" height="40" fill="#008080"/>
<rect x="74" y="80" width="3" height="28" fill="#008080"/>
<rect x="79" y="79" width="1" height="13" fill="#dc143c"/>
<rect x="78" y="80" width="3" height="11" fill="#dc143c"/>
<rect x="83" y="79" width="1" height="24" fill="#008080"/>
<rect x="82" y="90" width="3" height="10" fill="#008080"/>
<rect x="87" y="83" width="1" height="17" fill="#dc143c"/>
<rect x="86" y="90" width="3" height="4" fill="#dc143c"/>
<rect x="91" y="74" width="1" height="24" fill="#008080"/>
<rect x="90" y="88" width="3" height="5" fill="#008080"/>
<rect x="95" y="55" width="1" height="34" fill="#008080"/>
<rect x="94" y="66" width="3" height="23" fill="#008080"/>
<rect x="99" y="54" width="1" height="23" fill="#008080"/>
<rect x="98" y="62" width="3" height="5" fill="#008080"/>
<rect x="103" y="50" width="1" height="15" fill="#008080"/>
<rect x="102" y="52" width="3" height="11" fill="#008080"/>
<rect x="107" y="47" width="1" height="13" fill="#008080"/>
<rect x="106" y="48" width="3" height="5" fill="#008080"/>
<rect x="111" y="44" width="1" height="20" fill="#dc143c"/>
<rect x="110" y="48" width="3" height="5" fill="#dc143c"/>
<rect x="115" y="35" width="1" height="27" fill="#008080"/>
<rect x="114" y="44" width="3" height="9" fill="#008080"/>
<rect x="119" y="43" width="1" height="31" fill="#dc143c"/>
<rect x="118" y="43" width="3" height="31" fill="#dc143c"/>
<rect x="123" y="53" width="1" height="35" fill="#008080"/>
<rect x="122" y="64" width="3" height="8" fill="#008080"/>
<rect x="127" y="54" width="1" height="18" fill="#008080"/>
<rect x="126" y="54" width="3" height="10" fill="#008080"/>
<rect x="131" y="63" width="1" height="31" fill="#008080"/>
<rect x="130" y="69" width="3" height="23" fill="#008080"/>
<rect x="135" y="65" width="1" height="20" fill="#dc143c"/>
<rect x="134" y="69" width="3" height="15" fill="#dc143c"/>
<rect x="139" y="70" width="1" height="31" fill="#008080"/>
<rect x="138" y="75" width="3" height="9" fill="#008080"/>
<rect x="143" y="67" width="1" height="24" fill="#dc143c"/>
<rect x="142" y="75" width="3" height="16" fill="#dc143c"/>
<rect x="147" y="67" width="1" height="30" fill="#dc143c"/>
<rect x="146" y="90" width="3" height="4" fill="#dc143c"/>
<rect x="151" y="91" width="1" height="12" fill="#dc143c"/>
<rect x="150" y="93" width="3" height="9" fill="#dc143c"/>
<rect x="155" y="87" width="1" height="18" fill="#008080"/>
<rect x="154" y="94" width="3" height="8" fill="#008080"/>
<rect x="159" y="93" width="1" height="29" fill="#dc143c"/>
<rect x="158" y="94" width="3" height="25" fill="#dc143c"/>
<rect x="163" y="96" width="1" height="25" fill="#008080"/>
<rect x="162" y="114" width="3" height="5" fill="#008080"/>
<rect x="167" y="89" width="1" height="27" fill="#008080"/>
<rect x="166" y="96" width="3" height="18" fill="#008080"/>
<rect x="171" y="88" width="1" height="20" fill="#dc143c"/>
<rect x="170" y="96" width="3" height="9" fill="#dc143c"/>
<rect x="175" y="101" width="1" height="15" fill="#dc143c"/>
<rect x="174" y="103" width="3" height="2" fill="#dc143c"/>
<rect x="179" y="97" width="1" height="18" fill="#008080"/>
<rect x="178" y="102" width="3" height="3" fill="#008080"/>
<rect x="183" y="62" width="1" height="43" fill="#008080"/>
<rect x="182" y="81" width="3" height="21" fill="#008080"/>
<rect x="187" y="79" width="1" height="23" fill="#dc143c"/>
<rect x="186" y="81" width="3" height="12" fill="#dc143c"/>
<rect x="191" y="91" width="1" height="26" fill="#dc143c"/>
<rect x="190" y="91" width="3" height="20" fill="#dc143c"/>
<rect x="195" y="89" width="1" height="24" fill="#008080"/>
<rect x="194" y="93" width="3" height="18" fill="#008080"/>
<rect x="199" y="21" width="1" height="79" fill="#dc143c"/>
<rect x="198" y="93" width="3" height="5" fill="#dc143c"/>
<rect x="203" y="86" width="1" height="18" fill="#008080"/>
<rect x="202" y="93" width="3" height="5" fill="#008080"/>
<rect x="207" y="80" width="1" height="33" fill="#008080"/>
<rect x="206" y="92" width="3" height="2" fill="#008080"/>
<rect x="211" y="90" width="1" height="50" fill="#dc143c"/>
<rect x="210" y="91" width="3" height="35" fill="#dc143c"/>
<rect x="215" y="121" width="1" height="29" fill="#dc143c"/>
<rect x="214" y="126" width="3" height="20" fill="#dc143c"/>
<rect x="219" y="132" width="1" height="25" fill="#008080"/>
<rect x="218" y="141" width="3" height="6" fill="#008080"/>
<rect x="223" y="141" width="1" height="20" fill="#dc143c"/>
<rect x="222" y="141" width="3" height="19" fill="#dc143c"/>
<rect x="227" y="153" width="1" height="13" fill="#008080"/>
<rect x="226" y="155" width="3" height="6" fill="#008080"/>
<rect x="231" y="145" width="1" height="19" fill="#008080"/>
<rect x="230" y="153" width="3" height="3" fill="#008080"/>
<rect x="235" y="136" width="1" height="20" fill="#008080"/>
<rect x="234" y="143" width="3" height="12" fill="#008080"/>
<rect x="239" y="140" width="1" height="20" fill="#008080"/>
<rect x="238" y="141" width="3" height="3" fill="#008080"/>
<rect x="243" y="115" width="1" height="33" fill="#008080"/>
<rect x="242" y="123" width="3" height="20" fill="#008080"/>
<rect x="247" y="122" width="1" height="27" fill="#dc143c"/>
<rect x="246" y="123" width="3" height="21" fill="#dc143c"/>
<rect x="251" y="124" width="1" height="18" fill="#dc143c"/>
<rect x="250" y="137" width="3" height="3" fill="#dc143c"/>
<rect x="255" y="132" width="1" height="21" fill="#dc143c"/>
<rect x="254" y="139" width="3" height="11" fill="#dc143c"/>
<rect x="259" y="141" width="1" height="19" fill="#008080"/>
<rect x="258" y="149" width="3" height="2" fill="#008080"/>
<rect x="263" y="136" width="1" height="19" fill="#008080"/>
<rect x="262" y="140" width="3" height="9" fill="#008080"/>
<rect x="267" y="134" width="1" height="23" fill="#dc143c"/>
<rect x="266" y="139" width="3" height="6" fill="#dc143c"/>
<rect x="271" y="131" width="1" height="15" fill="#008080"/>
<rect x="270" y="140" width="3" height="5" fill="#008080"/>
<rect x="275" y="124" width="1" height="22" fill="#008080"/>
<rect x="274" y="126" width="3" height="19" fill="#008080"/>
<rect x="279" y="119" width="1" height="34" fill="#dc143c"/>
<rect x="278" y="126" width="3" height="6" fill="#dc143c"/>
<rect x="283" y="132" width="1" height="81" fill="#dc143c"/>
<rect x="282" y="132" width="3" height="79" fill="#dc143c"/>
<rect x="287" y="189" width="1" height="28" fill="#008080"/>
<rect x="286" y="194" width="3" height="18" fill="#008080"/>
<rect x="291" y="164" width="1" height="35" fill="#008080"/>
<rect x="290" y="180" width="3" height="14" fill="#008080"/>
<rect x="295" y="178" width="1" height="11" fill="#dc143c"/>
<rect x="294" y="180" width="3" height="7" fill="#dc143c"/>
<rect x="299" y="178" width="1" height="19" fill="#dc143c"/>
<rect x="298" y="187" width="3" height="9" fill="#dc143c"/>
<rect x="303" y="172" width="1" height="43" fill="#dc143c"/>
<rect x="302" y="195" width="3" height="3" fill="#dc143c"/>
<rect x="307" y="185" width="1" height="38" fill="#dc143c"/>
<rect x="306" y="197" width="3" height="22" fill="#dc143c"/>
<rect x="311" y="217" width="1" height="25" fill="#dc143c"/>
<rect x="310" y="218" width="3" height="20" fill="#dc143c"/>
<rect x="315" y="224" width="1" height="41" fill="#dc143c"/>
<rect x="314" y="238" width="3" height="25" fill="#dc143c"/>
<rect x="319" y="256" width="1" height="39" fill="#dc143c"/>
<rect x="318" y="263" width="3" height="32" fill="#dc143c"/>
<rect x="323" y="280" width="1" height="25" fill="#dc143c"/>
<rect x="322" y="295" width="3" height="5" fill="#dc143c"/>
<rect x="327" y="291" width="1" height="29" fill="#dc143c"/>
<rect x="326" y="298" width="3" height="20" fill="#dc143c"/>
<rect x="331" y="306" width="1" height="33" fill="#dc143c"/>
<rect x="330" y="317" width="3" height="11" fill="#dc143c"/>
<rect x="335" y="299" width="1" height="32" fill="#008080"/>
<rect x="334" y="306" width="3" height="24" fill="#008080"/>
<rect x="339" y="304" width="1" height="31" fill="#dc143c"/>
<rect x="338" y="305" width="3" height="29" fill="#dc143c"/>
<rect x="343" y="322" width="1" height="18" fill="#008080"/>
<rect x="342" y="331" width="3" height="3" fill="#008080"/>
<rect x="347" y="316" width="1" height="20" fill="#008080"/>
<rect x="346" y="331" width="3" height="5" fill="#008080"/>
<rect x="351" y="317" width="1" height="28" fill="#dc143c"/>
<rect x="350" y="331" width="3" height="7" fill="#dc143c"/>
<rect x="355" y="331" width="1" height="23" fill="#dc143c"/>
<rect x="354" y="337" width="3" height="4" fill="#dc143c"/>
<rect x="359" y="313" width="1" height="43" fill="#008080"/>
<rect x="358" y="317" width="3" height="24" fill="#008080"/>
<rect x="363" y="316" width="1" height="53" fill="#dc143c"/>
<rect x="362" y="317" width="3" height="47" fill="#dc143c"/>
<rect x="367" y="351" width="1" height="21" fill="#dc143c"/>
<rect x="366" y="364" width="3" height="1" fill="#dc143c"/>
<rect x="371" y="348" width="1" height="18" fill="#dc143c"/>
<rect x="370" y="357" width="3" height="3" fill="#dc143c"/>
<rect x="375" y="345" width="1" height="21" fill="#008080"/>
<rect x="374" y="349" width="3" height="11" fill="#008080"/>
<rect x="379" y="341" width="1" height="29" fill="#dc143c"/>
<rect x="378" y="349" width="3" height="7" fill="#dc143c"/>
<rect x="383" y="331" width="1" height="28" fill="#008080"/>
<rect x="382" y="348" width="3" height="8" fill="#008080"/>
<rect x="387" y="324" width="1" height="26" fill="#008080"/>
<rect x="386" y="339" width="3" height="9" fill="#008080"/>
<rect x="391" y="319" width="1" height="21" fill="#008080"/>
<rect x="390" y="325" width="3" height="15" fill="#008080"/>
<rect x="395" y="320" width="1" height="17" fill="#008080"/>
<rect x="394" y="322" width="3" height="5" fill="#008080"/>
<rect x="399" y="304" width="1" height="23" fill="#008080"/>
<rect x="398" y="310" width="3" height="12" fill="#008080"/>
<rect x="403" y="307" width="1" height="34" fill="#dc143c"/>
<rect x="402" y="310" width="3" height="17" fill="#dc143c"/>
<rect x="407" y="325" width="1" height="30" fill="#dc143c"/>
<rect x="406" y="326" width="3" height="22" fill="#dc143c"/>
<rect x="411" y="303" width="1" height="51" fill="#008080"/>
<rect x="410" y="312" width="3" height="36" fill="#008080"/>
<rect x="415" y="288" width="1" height="28" fill="#008080"/>
<rect x="414" y="292" width="3" height="20" fill="#008080"/>
<rect x="419" y="266" width="1" height="34" fill="#008080"/>
<rect x="418" y="267" width="3" height="28" fill="#008080"/>
<rect x="423" y="262" width="1" height="16" fill="#dc143c"/>
<rect x="422" y="267" width="3" height="7" fill="#dc143c"/>
<rect x="427" y="257" width="1" height="53" fill="#dc143c"/>
<rect x="426" y="273" width="3" height="36" fill="#dc143c"/>
<rect x="431" y="288" width="1" height="25" fill="#008080"/>
<rect x="430" y="299" width="3" height="9" fill="#008080"/>
<rect x="435" y="283" width="1" height="26" fill="#008080"/>
<rect x="434" y="295" width="3" height="4" fill="#008080"/>
<rect x="439" y="293" width="1" height="75" fill="#dc143c"/>
<rect x="438" y="294" width="3" height="67" fill="#dc143c"/>
<rect x="443" y="329" width="1" height="40" fill="#008080"/>
<rect x="442" y="332" width="3" height="36" fill="#008080"/>
<rect x="447" y="322" width="1" height="23" fill="#dc143c"/>
<rect x="446" y="332" width="3" height="2" fill="#dc143c"/>
<rect x="451" y="304" width="1" height="37" fill="#008080"/>
<rect x="450" y="312" width="3" height="22" fill="#008080"/>
<rect x="455" y="258" width="1" height="64" fill="#008080"/>
<rect x="454" y="288" width="3" height="24" fill="#008080"/>
<rect x="459" y="263" width="1" height="36" fill="#008080"/>
<rect x="458" y="277" width="3" height="12" fill="#008080"/>
<rect x="463" y="265" width="1" height="30" fill="#008080"/>
<rect x="462" y="266" width="3" height="12" fill="#008080"/>
<rect x="467" y="256" width="1" height="24" fill="#008080"/>
<rect x="466" y="261" width="3" height="6" fill="#008080"/>
<rect x="471" y="257" width="1" height="20" fill="#dc143c"/>
<rect x="470" y="262" width="3" height="6" fill="#dc143c"/>
<rect x="475" y="258" width="1" height="23" fill="#dc143c"/>
<rect x="474" y="267" width="3" height="2" fill="#dc143c"/>
<rect x="479" y="252" width="1" height="25" fill="#008080"/>
<rect x="478" y="260" width="3" height="9" fill="#008080"/>
<rect x="483" y="245" width="1" height="47" fill="#dc143c"/>
<rect x="482" y="260" width="3" height="25" fill="#dc143c"/>
<rect x="487" y="274" width="1" height="19" fill="#008080"/>
<rect x="486" y="279" width="3" height="6" fill="#008080"/>
<rect x="491" y="278" width="1" height="16" fill="#dc143c"/>
<rect x="490" y="282" width="3" height="11" fill="#dc143c"/>
<rect x="495" y="279" width="1" height="15" fill="#008080"/>
<rect x="494" y="286" width="3" height="6" fill="#008080"/>
<rect x="499" y="250" width="1" height="41" fill="#008080"/>
<rect x="498" y="250" width="3" height="37" fill="#008080"/>
<rect x="503" y="239" width="1" height="15" fill="#008080"/>
<rect x="502" y="239" width="3" height="12" fill="#008080"/>
<rect x="507" y="233" width="1" height="21" fill="#dc143c"/>
<rect x="506" y="239" width="3" height="11" fill="#dc143c"/>
<rect x="511" y="244" width="1" height="17" fill="#dc143c"/>
<rect x="510" y="249" width="3" height="9" fill="#dc143c"/>
<rect x="515" y="240" width="1" height="21" fill="#008080"/>
<rect x="514" y="247" width="3" height="13" fill="#008080"/>
<rect x="519" y="241" width="1" height="26" fill="#dc143c"/>
<rect x="518" y="247" width="3" height="19" fill="#dc143c"/>
<rect x="523" y="257" width="1" height="24" fill="#dc143c"/>
<rect x="522" y="266" width="3" height="4" fill="#dc143c"/>
<rect x="527" y="247" width="1" height="27" fill="#008080"/>
<rect x="526" y="247" width="3" height="23" fill="#008080"/>
<rect x="531" y="230" width="1" height="26" fill="#008080"/>
<rect x="530" y="245" width="3" height="3" fill="#008080"/>
<rect x="535" y="241" width="1" height="7" fill="#008080"/>
<rect x="534" y="243" width="3" height="3" fill="#008080"/>
<rect x="539" y="238" width="1" height="13" fill="#dc143c"/>
<rect x="538" y="243" width="3" height="2" fill="#dc143c"/>
<rect x="543" y="241" width="1" height="15" fill="#dc143c"/>
<rect x="542" y="244" width="3" height="7" fill="#dc143c"/>
<rect x="547" y="220" width="1" height="34" fill="#008080"/>
<rect x="546" y="231" width="3" height="20" fill="#008080"/>
<rect x="551" y="231" width="1" height="44" fill="#dc143c"/>
<rect x="550" y="231" width="3" height="39" fill="#dc143c"/>
<rect x="555" y="255" width="1" height="26" fill="#008080"/>
<rect x="554" y="263" width="3" height="7" fill="#008080"/>
<rect x="559" y="262" width="1" height="26" fill="#dc143c"/>
<rect x="558" y="263" width="3" height="22" fill="#dc143c"/>
<rect x="563" y="257" width="1" height="34" fill="#008080"/>
<rect x="562" y="264" width="3" height="22" fill="#008080"/>
<rect x="567" y="248" width="1" height="30" fill="#008080"/>
<rect x="566" y="256" width="3" height="9" fill="#008080"/>
<rect x="571" y="254" width="1" height="23" fill="#dc143c"/>
<rect x="570" y="256" width="3" height="12" fill="#dc143c"/>
<line x1="4" y1="404.5" x2="716" y2="404.5" stroke="#5a5a5a" stroke-width="1" stroke-dasharray="3,3"/>
<rect x="2" y="399" width="3" height="6" fill="#008080"/>
<rect x="6" y="402" width="3" height="3" fill="#008080"/>
<rect x="10" y="404" width="3" height="1" fill="#008080"/>
<rect x="14" y="404" width="3" height="3" fill="#008080"/>
<rect x="18" y="404" width="3" height="2" fill="#008080"/>
<rect x="22" y="404" width="3" height="1" fill="#008080"/>
<rect x="26" y="402" width="3" height="3" fill="#008080"/>
<rect x="30" y="401" width="3" height="4" fill="#008080"/>
<rect x="34" y="402" width="3" height="3" fill="#008080"/>
<rect x="38" y="401" width="3" height="4" fill="#008080"/>
<rect x="42" y="399" width="3" height="6" fill="#008080"/>
<rect x="46" y="399" width="3" height="6" fill="#008080"/>
<rect x="50" y="397" width="3" height="8" fill="#008080"/>
<rect x="54" y="396" width="3" height="9" fill="#008080"/>
<rect x="58" y="395" width="3" height="10" fill="#008080"/>
<rect x="62" y="394" width="3" height="11" fill="#008080"/>
<rect x="66" y="393" width="3" height="12" fill="#008080"/>
<rect x="70" y="390" width="3" height="15" fill="#008080"/>
<rect x="74" y="389" width="3" height="16" fill="#008080"/>
<rect x="78" y="388" width="3" height="17" fill="#008080"/>
<rect x="82" y="388" width="3" height="17" fill="#008080"/>
<rect x="86" y="388" width="3" height="17" fill="#008080"/>
<rect x="90" y="388" width="3" height="17" fill="#008080"/>
<rect x="94" y="388" width="3" height="17" fill="#008080"/>
<rect x="98" y="388" width="3" height="17" fill="#008080"/>
<rect x="102" y="388" width="3" height="17" fill="#008080"/>
<rect x="106" y="388" width="3" height="17" fill="#008080"/>
<rect x="110" y="388" width="3" height="17" fill="#008080"/>
<rect x="114" y="388" width="3" height="17" fill="#008080"/>
<rect x="118" y="388" width="3" height="17" fill="#008080"/>
<rect x="122" y="388" width="3" height="17" fill="#008080"/>
<rect x="126" y="391" width="3" height="14" fill="#008080"/>
<rect x="130" y="393" width="3" height="12" fill="#008080"/>
<rect x="134" y="394" width="3" height="11" fill="#008080"/>
<rect x="138" y="396" width="3" height="9" fill="#008080"/>
<rect x="142" y="398" width="3" height="7" fill="#008080"/>
<rect x="146" y="399" width="3" height="6" fill="#008080"/>
<rect x="150" y="401" width="3" height="4" fill="#008080"/>
<rect x="154" y="402" width="3" height="3" fill="#008080"/>
<rect x="158" y="402" width="3" height="3" fill="#008080"/>
<rect x="162" y="403" width="3" height="2" fill="#008080"/>
<rect x="166" y="403" width="3" height="2" fill="#008080"/>
<rect x="170" y="403" width="3" height="2" fill="#008080"/>
<rect x="174" y="403" width="3" height="2" fill="#008080"/>
<rect x="178" y="403" width="3" height="2" fill="#008080"/>
<rect x="182" y="403" width="3" height="2" fill="#008080"/>
<rect x="186" y="402" width="3" height="3" fill="#008080"/>
<rect x="190" y="402" width="3" height="3" fill="#008080"/>
<rect x="194" y="402" width="3" height="3" fill="#008080"/>
<rect x="198" y="402" width="3" height="3" fill="#008080"/>
<rect x="202" y="402" width="3" height="3" fill="#008080"/>
<rect x="206" y="404" width="3" height="1" fill="#008080"/>
<rect x="210" y="404" width="3" height="3" fill="#008080"/>
<rect x="214" y="404" width="3" height="5" fill="#008080"/>
<rect x="218" y="404" width="3" height="7" fill="#008080"/>
<rect x="222" y="404" width="3" height="9" fill="#008080"/>
<rect x="226" y="404" width="3" height="8" fill="#008080"/>
<rect x="230" y="404" width="3" height="7" fill="#008080"/>
<rect x="234" y="404" width="3" height="7" fill="#008080"/>
<rect x="238" y="404" width="3" height="7" fill="#008080"/>
<rect x="242" y="404" width="3" height="6" fill="#008080"/>
<rect x="246" y="404" width="3" height="6" fill="#008080"/>
<rect x="250" y="404" width="3" height="6" fill="#008080"/>
<rect x="254" y="404" width="3" height="6" fill="#008080"/>
<rect x="258" y="404" width="3" height="6" fill="#008080"/>
<rect x="262" y="404" width="3" height="6" fill="#008080"/>
<rect x="266" y="404" width="3" height="5" fill="#008080"/>
<rect x="270" y="404" width="3" height="4" fill="#008080"/>
<rect x="274" y="404" width="3" height="5" fill="#008080"/>
<rect x="278" y="404" width="3" height="7" fill="#008080"/>
<rect x="282" y="404" width="3" height="8" fill="#008080"/>
<rect x="286" y="404" width="3" height="9" fill="#008080"/>
<rect x="290" y="404" width="3" height="10" fill="#008080"/>
<rect x="294" y="404" width="3" height="10" fill="#008080"/>
<rect x="298" y="404" width="3" height="12" fill="#008080"/>
<rect x="302" y="404" width="3" height="13" fill="#008080"/>
<rect x="306" y="404" width="3" height="14" fill="#008080"/>
<rect x="310" y="404" width="3" height="16" fill="#008080"/>
<rect x="314" y="404" width="3" height="18" fill="#008080"/>
<rect x="318" y="404" width="3" height="20" fill="#008080"/>
<rect x="322" y="404" width="3" height="24" fill="#008080"/>
<rect x="326" y="404" width="3" height="26" fill="#008080"/>
<rect x="330" y="404" width="3" height="27" fill="#008080"/>
<rect x="334" y="404" width="3" height="26" fill="#008080"/>
<rect x="338" y="404" width="3" height="26" fill="#008080"/>
<rect x="342" y="404" width="3" height="26" fill="#008080"/>
<rect x="346" y="404" width="3" height="26" fill="#008080"/>
<rect x="350" y="404" width="3" height="25" fill="#008080"/>
<rect x="354" y="404" width="3" height="25" fill="#008080"/>
<rect x="358" y="404" width="3" height="24" fill="#008080"/>
<rect x="362" y="404" width="3" height="24" fill="#008080"/>
<rect x="366" y="404" width="3" height="24" fill="#008080"/>
<rect x="370" y="404" width="3" height="23" fill="#008080"/>
<rect x="374" y="404" width="3" height="22" fill="#008080"/>
<rect x="378" y="404" width="3" height="21" fill="#008080"/>
<rect x="382" y="404" width="3" height="20" fill="#008080"/>
<rect x="386" y="404" width="3" height="18" fill="#008080"/>
<rect x="390" y="404" width="3" height="16" fill="#008080"/>
<rect x="394" y="404" width="3" height="15" fill="#008080"/>
<rect x="398" y="404" width="3" height="14" fill="#008080"/>
<rect x="402" y="404" width="3" height="12" fill="#008080"/>
<rect x="406" y="404" width="3" height="10" fill="#008080"/>
<rect x="410" y="404" width="3" height="9" fill="#008080"/>
<rect x="414" y="404" width="3" height="7" fill="#008080"/>
<rect x="418" y="404" width="3" height="5" fill="#008080"/>
<rect x="422" y="404" width="3" height="5" fill="#008080"/>
<rect x="426" y="404" width="3" height="5" fill="#008080"/>
<rect x="430" y="404" width="3" height="5" fill="#008080"/>
<rect x="434" y="404" width="3" height="5" fill="#008080"/>
<rect x="438" y="404" width="3" height="7" fill="#008080"/>
<rect x="442" y="404" width="3" height="8" fill="#008080"/>
<rect x="446" y="404" width="3" height="8" fill="#008080"/>
<rect x="450" y="404" width="3" height="8" fill="#008080"/>
<rect x="454" y="404" width="3" height="8" fill="#008080"/>
<rect x="458" y="404" width="3" height="7" fill="#008080"/>
<rect x="462" y="404" width="3" height="7" fill="#008080"/>
<rect x="466" y="404" width="3" height="3" fill="#008080"/>
<rect x="470" y="402" width="3" height="3" fill="#008080"/>
<rect x="474" y="402" width="3" height="3" fill="#008080"/>
<rect x="478" y="402" width="3" height="3" fill="#008080"/>
<rect x="482" y="400" width="3" height="5" fill="#008080"/>
<rect x="486" y="400" width="3" height="5" fill="#008080"/>
<rect x="490" y="400" width="3" height="5" fill="#008080"/>
<rect x="494" y="400" width="3" height="5" fill="#008080"/>
<rect x="498" y="400" width="3" height="5" fill="#008080"/>
<rect x="502" y="400" width="3" height="5" fill="#008080"/>
<rect x="506" y="400" width="3" height="5" fill="#008080"/>
<rect x="510" y="400" width="3" height="5" fill="#008080"/>
<rect x="514" y="401" width="3" height="4" fill="#008080"/>
<rect x="518" y="401" width="3" height="4" fill="#008080"/>
<rect x="522" y="401" width="3" height="4" fill="#008080"/>
<rect x="526" y="401" width="3" height="4" fill="#008080"/>
<rect x="530" y="400" width="3" height="5" fill="#008080"/>
<rect x="534" y="400" width="3" height="5" fill="#008080"/>
<rect x="538" y="400" width="3" height="5" fill="#008080"/>
<rect x="542" y="400" width="3" height="5" fill="#008080"/>
<rect x="546" y="400" width="3" height="5" fill="#008080"/>
<rect x="550" y="400" width="3" height="5" fill="#008080"/>
<rect x="554" y="400" width="3" height="5" fill="#008080"/>
<rect x="558" y="400" width="3" height="5" fill="#008080"/>
<rect x="562" y="400" width="3" height="5" fill="#008080"/>
<rect x="566" y="401" width="3" height="4" fill="#008080"/>
<rect x="570" y="403" width="3" height="2" fill="#008080"/>
<polyline points="3.0,397.8 7.0,397.8 11.0,398.6 15.0,401.0 19.0,403.3 23.0,403.8 27.0,403.5 31.0,403.1 35.0,403.2 39.0,402.2 43.0,401.7 47.0,400.5 51.0,400.0 55.0,399.2 59.0,397.7 63.0,396.6 67.0,395.8 71.0,394.6 75.0,393.6 80.0,390.5 90.0,388.8 100.0,389.3 110.0,388.0 117.6,387.5 125.0,388.8 132.6,390.0 140.0,392.5 150.0,396.3 160.0,400.0 170.0,402.5 180.0,403.0 190.0,403.0 200.0,402.0 210.0,402.0 215.0,403.8 222.7,407.0 230.0,410.5 240.0,410.5 250.0,409.5 260.0,409.0 270.0,408.8 280.0,407.5 290.0,410.0 300.0,412.8 303.6,412.8 307.5,414.4 311.6,415.7 315.8,416.7 319.8,418.7 323.7,420.3 327.7,422.7 331.6,425.8 335.6,427.8 339.5,429.0 350.0,429.0 360.0,428.5 370.0,427.3 380.0,426.3 390.0,423.8 400.0,420.0 410.0,416.3 420.0,412.3 430.0,408.0 437.5,405.5 445.0,408.8 452.5,410.5 460.0,410.0 467.5,407.0 475.0,402.5 482.5,401.3 492.6,401.3 500.0,402.5 510.0,400.5 520.0,398.8 530.0,399.5 540.0,400.0 547.7,398.8 555.0,400.0 562.7,401.3 571.4,403.0" fill="none" stroke="#dc143c" stroke-width="2"/>
<line x1="4" y1="452.5" x2="716" y2="452.5" stroke="#006400" stroke-width="1" stroke-dasharray="3,3"/>
<line x1="4" y1="473.5" x2="716" y2="473.5" stroke="#006400" stroke-width="1" stroke-dasharray="3,3"/>
<polyline points="3.2,464.3 10.5,465.0 18.4,462.5 25.0,459.0 29.0,459.8 34.3,463.0 40.8,458.2 52.7,457.7 60.6,455.0 65.9,453.0 71.1,453.0 76.4,451.1 81.7,452.4 89.6,453.0 97.5,450.3 105.4,449.3 116.0,450.3 118.6,455.6 125.2,455.0 129.1,456.4 134.4,459.8 138.3,459.0 143.6,461.7 152.8,462.5 160.7,466.1 168.6,462.5 179.2,462.5 184.5,459.8 191.0,463.5 195.3,461.7 207.1,461.7 212.4,468.3 216.4,469.6 224.3,470.9 232.2,469.6 237.4,467.0 240.0,467.0 244.0,463.8 248.0,467.0 259.8,467.0 267.7,465.6 274.3,462.5 279.0,462.5 282.2,473.0 288.8,468.8 295.4,468.8 303.3,470.1 308.6,473.5 313.8,475.6 319.1,478.0 327.0,478.8 332.3,478.3 336.2,475.6 341.5,476.7 345.5,475.6 350.7,476.2 356.0,476.2 360.0,473.0 363.9,475.6 371.8,475.6 377.1,473.5 384.0,470.9 390.5,467.0 398.4,465.0 402.4,467.0 406.4,468.8 411.6,463.0 418.2,459.0 422.2,459.0 427.4,462.5 434.0,461.7 439.3,468.8 444.6,465.0 449.8,464.3 456.4,460.4 464.3,458.2 472.2,458.2 480.0,459.0 484.0,461.7 493.3,462.5 499.9,457.2 505.2,457.2 509.1,459.0 515.7,459.6 521.0,461.1 527.6,459.6 535.5,457.7 542.0,459.0 547.3,458.2 551.3,462.5 555.2,463.0 559.2,464.8 564.4,461.7 568.4,461.7 571.8,463.0" fill="none" stroke="#008080" stroke-width="2"/>
<rect x="2" y="2" width="715" height="1" fill="#000"/>
<rect x="2" y="381" width="715" height="1" fill="#000"/>
<rect x="2" y="2" width="1" height="380" fill="#000"/>
<rect x="716" y="2" width="1" height="380" fill="#000"/>
<rect x="2" y="383" width="715" height="1" fill="#000"/>
<rect x="2" y="432" width="715" height="1" fill="#000"/>
<rect x="2" y="383" width="1" height="50" fill="#000"/>
<rect x="716" y="383" width="1" height="50" fill="#000"/>
<rect x="2" y="434" width="715" height="1" fill="#000"/>
<rect x="2" y="490" width="715" height="1" fill="#000"/>
<rect x="2" y="434" width="1" height="57" fill="#000"/>
<rect x="716" y="434" width="1" height="57" fill="#000"/>
<rect x="717" y="15" width="2" height="1" fill="#000"/>
<text transform="translate(722,19) scale(1,1.1)" textLength="32.5" lengthAdjust="spacingAndGlyphs" xml:space="preserve">0.73190</text>
<rect x="717" y="48" width="2" height="1" fill="#000"/>
<text transform="translate(722,52) scale(1,1.1)" textLength="32.5" lengthAdjust="spacingAndGlyphs" xml:space="preserve">0.72930</text>
<rect x="717" y="81" width="2" height="1" fill="#000"/>
<text transform="translate(722,85) scale(1,1.1)" textLength="32.5" lengthAdjust="spacingAndGlyphs" xml:space="preserve">0.72670</text>
<rect x="717" y="114" width="2" height="1" fill="#000"/>
<text transform="translate(722,118) scale(1,1.1)" textLength="32.5" lengthAdjust="spacingAndGlyphs" xml:space="preserve">0.72415</text>
<rect x="717" y="147" width="2" height="1" fill="#000"/>
<text transform="translate(722,151) scale(1,1.1)" textLength="32.5" lengthAdjust="spacingAndGlyphs" xml:space="preserve">0.72155</text>
<rect x="717" y="180" width="2" height="1" fill="#000"/>
<text transform="translate(722,184) scale(1,1.1)" textLength="32.5" lengthAdjust="spacingAndGlyphs" xml:space="preserve">0.71895</text>
<rect x="717" y="213" width="2" height="1" fill="#000"/>
<text transform="translate(722,217) scale(1,1.1)" textLength="32.5" lengthAdjust="spacingAndGlyphs" xml:space="preserve">0.71640</text>
<rect x="717" y="246" width="2" height="1" fill="#000"/>
<text transform="translate(722,250) scale(1,1.1)" textLength="32.5" lengthAdjust="spacingAndGlyphs" xml:space="preserve">0.71380</text>
<rect x="717" y="279" width="2" height="1" fill="#000"/>
<text transform="translate(722,283) scale(1,1.1)" textLength="32.5" lengthAdjust="spacingAndGlyphs" xml:space="preserve">0.71125</text>
<rect x="717" y="312" width="2" height="1" fill="#000"/>
<text transform="translate(722,316) scale(1,1.1)" textLength="32.5" lengthAdjust="spacingAndGlyphs" xml:space="preserve">0.70865</text>
<rect x="717" y="345" width="2" height="1" fill="#000"/>
<text transform="translate(722,349) scale(1,1.1)" textLength="32.5" lengthAdjust="spacingAndGlyphs" xml:space="preserve">0.70605</text>
<rect x="717" y="378" width="2" height="1" fill="#000"/>
<text transform="translate(722,382) scale(1,1.1)" textLength="32.5" lengthAdjust="spacingAndGlyphs" xml:space="preserve">0.70350</text>
<rect x="718" y="262" width="41" height="11" fill="#000"/>
<text transform="translate(722,271) scale(1,1.1)" textLength="32.5" lengthAdjust="spacingAndGlyphs" style="fill:#fff;stroke:#fff" xml:space="preserve">0.71217</text>
<rect x="717" y="385" width="2" height="1" fill="#000"/>
<rect x="717" y="404" width="2" height="1" fill="#000"/>
<rect x="717" y="431" width="2" height="1" fill="#000"/>
<text transform="translate(720,395) scale(1,1.1)" textLength="37.5" lengthAdjust="spacingAndGlyphs" xml:space="preserve">0.006534</text>
<text transform="translate(720,408) scale(1,1.1)" xml:space="preserve">0.00</text>
<text transform="translate(720,408) scale(1,1.1)" xml:space="preserve">0</text>
<text transform="translate(720,430) scale(1,1.1)" xml:space="preserve">-0.008961</text>
<rect x="717" y="436" width="2" height="1" fill="#000"/>
<rect x="717" y="452" width="2" height="1" fill="#000"/>
<rect x="717" y="473" width="2" height="1" fill="#000"/>
<rect x="717" y="489" width="2" height="1" fill="#000"/>
<text transform="translate(720,445) scale(1,1.1)" xml:space="preserve">100</text>
<text transform="translate(720,456) scale(1,1.1)" xml:space="preserve">70</text>
<text transform="translate(720,477) scale(1,1.1)" xml:space="preserve">30</text>
<text transform="translate(720,487) scale(1,1.1)" xml:space="preserve">0</text>
<rect x="3" y="491" width="1" height="3" fill="#000"/>
<text transform="translate(3,503) scale(1,1.1)" xml:space="preserve">14 Sep 2018</text>
<rect x="67" y="491" width="1" height="3" fill="#000"/>
<text transform="translate(67,503) scale(1,1.1)" xml:space="preserve">19 Sep 08:00</text>
<rect x="131" y="491" width="1" height="3" fill="#000"/>
<text transform="translate(131,503) scale(1,1.1)" xml:space="preserve">24 Sep 00:00</text>
<rect x="195" y="491" width="1" height="3" fill="#000"/>
<text transform="translate(195,503) scale(1,1.1)" xml:space="preserve">26 Sep 16:00</text>
<rect x="259" y="491" width="1" height="3" fill="#000"/>
<text transform="translate(259,503) scale(1,1.1)" textLength="48.2" lengthAdjust="spacingAndGlyphs" xml:space="preserve">1 Oct 08:00</text>
<rect x="323" y="491" width="1" height="3" fill="#000"/>
<text transform="translate(323,503) scale(1,1.1)" textLength="48.2" lengthAdjust="spacingAndGlyphs" xml:space="preserve">4 Oct 00:00</text>
<rect x="387" y="491" width="1" height="3" fill="#000"/>
<text transform="translate(387,503) scale(1,1.1)" textLength="48.2" lengthAdjust="spacingAndGlyphs" xml:space="preserve">8 Oct 16:00</text>
<rect x="451" y="491" width="1" height="3" fill="#000"/>
<text transform="translate(451,503) scale(1,1.1)" textLength="53" lengthAdjust="spacingAndGlyphs" xml:space="preserve">11 Oct 08:00</text>
<rect x="515" y="491" width="1" height="3" fill="#000"/>
<text transform="translate(515,503) scale(1,1.1)" textLength="53" lengthAdjust="spacingAndGlyphs" xml:space="preserve">16 Oct 00:00</text>
<rect x="6" y="9" width="7" height="1" fill="#000"/>
<rect x="7" y="10" width="5" height="1" fill="#000"/>
<rect x="8" y="11" width="3" height="1" fill="#000"/>
<rect x="9" y="12" width="1" height="1" fill="#000"/>
<text transform="translate(18.5,14) scale(1,1.1)" textLength="55" lengthAdjust="spacingAndGlyphs" xml:space="preserve">AUDUSD,H4</text>
<text transform="translate(80,14) scale(1,1.1)" textLength="32.5" lengthAdjust="spacingAndGlyphs" xml:space="preserve">0.71302</text>
<text transform="translate(116.3,14) scale(1,1.1)" textLength="32.5" lengthAdjust="spacingAndGlyphs" xml:space="preserve">0.71319</text>
<text transform="translate(152,14) scale(1,1.1)" textLength="32.5" lengthAdjust="spacingAndGlyphs" xml:space="preserve">0.71145</text>
<text transform="translate(187.8,14) scale(1,1.1)" textLength="32.5" lengthAdjust="spacingAndGlyphs" xml:space="preserve">0.71217</text>
<text transform="translate(7.4,396) scale(1,1.1)" textLength="61" lengthAdjust="spacingAndGlyphs" xml:space="preserve">MACD(5,35,5)</text>
<text transform="translate(71.7,396) scale(1,1.1)" textLength="37.5" lengthAdjust="spacingAndGlyphs" xml:space="preserve">0.000246</text>
<text transform="translate(113,396) scale(1,1.1)" textLength="37" lengthAdjust="spacingAndGlyphs" xml:space="preserve">0.000427</text>
<text transform="translate(7.4,447) scale(1,1.1)" textLength="67" lengthAdjust="spacingAndGlyphs" xml:space="preserve">RSI(14) 49.4687</text>
</svg></body></html>
